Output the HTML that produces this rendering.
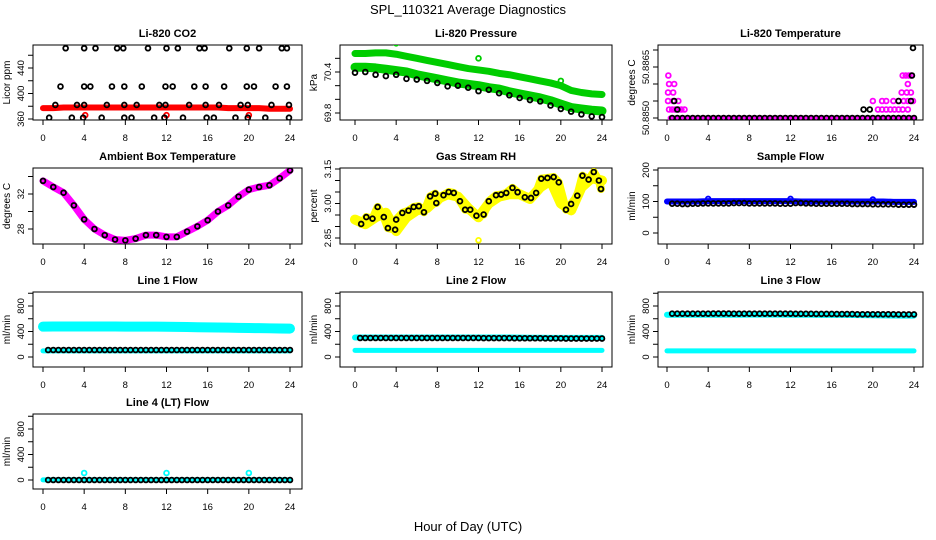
<!DOCTYPE html>
<html><head><meta charset="utf-8">
<style>
html,body{margin:0;padding:0;background:#fff;}
svg{display:block;font-family:"Liberation Sans",sans-serif;}
</style></head>
<body>
<svg id="chart" width="936" height="540" viewBox="0 0 936 540" xmlns="http://www.w3.org/2000/svg">
<rect width="936" height="540" fill="#fff"/>
<text x="468" y="14" text-anchor="middle" font-size="13">SPL_110321  Average Diagnostics</text>
<text x="468" y="531" text-anchor="middle" font-size="13">Hour of Day (UTC)</text>
</svg>
<script>
// ---------- data ----------
const hourTicks = [0,4,8,12,16,20,24];
const hourly = [0,1,2,3,4,5,6,7,8,9,10,11,12,13,14,15,16,17,18,19,20,21,22,23,24];
const halfHours = Array.from({length:48},(_, i)=>0.5+i*0.5);

const co2Hours = [2.2,4.0,5.1,7.2,7.8,10.2,12.0,13.1,15.2,15.7,18.1,19.8,21.0,23.2,23.7,
 1.7,4.0,4.6,6.7,7.9,9.6,11.9,12.6,14.7,15.8,17.6,19.8,20.5,22.6,23.7,
 1.2,3.3,4.0,6.2,7.9,9.1,11.3,11.9,14.2,15.8,17.1,19.2,19.9,22.2,23.9,
 0.6,2.8,3.9,5.7,7.9,8.6,10.8,11.8,13.6,15.9,16.6,18.7,19.9,21.6,23.9];
const co2Vals = [471,471,471,471,471,471,471,471,471,471,471,471,471,471,471,
 411,411,411,411,411,411,411,411,411,411,411,411,411,411,411,
 382,382,382,382,382,382,382,382,382,382,382,382,382,382,382,
 362,362,362,362,362,362,362,362,362,362,362,362,362,362,362];
const co2Red = [377,377,378,378,378,378,378,378,378,378,378,378,378,378,378,378,378,378,377,377,377,377,376,376,376];
const co2RedOutHours = [4.1,12.0,20.0];
const co2RedOutVals = [366,366,366];

const presUpper = [70.67,70.67,70.68,70.68,70.66,70.63,70.6,70.57,70.54,70.51,70.48,70.45,70.43,70.41,70.38,70.36,70.33,70.3,70.27,70.24,70.2,70.13,70.1,70.08,70.07];
const presLower = [70.47,70.47,70.46,70.44,70.42,70.4,70.36,70.33,70.3,70.27,70.24,70.22,70.2,70.17,70.15,70.11,70.08,70.05,70.02,69.98,69.93,69.88,69.86,69.84,69.83];
const presBlack = [70.39,70.4,70.36,70.34,70.36,70.3,70.29,70.27,70.24,70.19,70.2,70.17,70.12,70.14,70.09,70.06,70.02,69.99,69.97,69.91,69.86,69.82,69.78,69.75,69.74];
const presOutHours = [4.0,12.0,20.0];
const presOutVals = [70.82,70.6,70.27];

const tempBaseHours = [0.3,1,2,3,4,5,6,7,8,9,10,11,12,13,14,15,16,17,18,19,20,21,22,23,23.9];
const tempBase = [50.8850,50.8850,50.8850,50.8850,50.8850,50.8850,50.8850,50.8850,50.8850,50.8850,50.8850,50.8850,50.8850,50.8850,50.8850,50.8850,50.8850,50.8850,50.8850,50.8850,50.8850,50.8850,50.8850,50.8850,50.8850];
const tempMagHours = [0.13,0.2,0.7,0.1,0.6,0.1,0.6,1.1,0.2,0.5,0.8,1.1,1.4,1.7,
 20.0,20.9,21.3,22.0,22.5,23.0,23.4,23.9,20.5,20.9,21.3,21.7,22.1,22.5,22.9,23.4,22.8,23.3,23.7,23.4,22.9,23.2,23.5,23.7];
const tempMagVals = [50.88625,50.8860,50.8860,50.88575,50.88575,50.8855,50.8855,50.8855,50.88525,50.88525,50.88525,50.88525,50.88525,50.88525,
 50.8855,50.8855,50.8855,50.8855,50.8855,50.8855,50.8855,50.8855,50.88525,50.88525,50.88525,50.88525,50.88525,50.88525,50.88525,50.88525,50.88575,50.88575,50.88575,50.8860,50.88625,50.88625,50.88625,50.88625];
const tempBlackHours = [1.0,0.7,19.1,19.7,22.5,23.8,23.9,23.7];
const tempBlackVals = [50.88525,50.8855,50.88525,50.88525,50.8855,50.88625,50.88706,50.8855];

const ambVals = [33.5,32.8,32.15,30.7,29.1,28.0,27.3,26.8,26.7,26.9,27.3,27.3,27.1,27.1,27.7,28.3,29.0,30.0,30.7,31.7,32.5,32.8,33.0,33.8,34.7];

const rhHours = [0.6,1.1,1.7,2.2,2.8,3.2,3.9,4.0,4.6,5.2,5.7,6.2,6.7,7.3,7.8,7.9,8.6,9.1,9.6,10.2,10.7,11.2,11.8,12.5,13.0,13.7,14.2,14.7,15.3,15.8,16.5,17.1,17.6,18.1,18.7,19.3,19.8,20.5,21.0,21.6,22.1,22.7,23.2,23.7,23.9];
const rhVals = [2.911,2.941,2.934,2.985,2.941,2.893,2.886,2.93,2.959,2.969,2.985,2.988,2.962,3.031,3.043,3.002,3.036,3.05,3.046,3.01,2.973,2.973,2.947,2.952,3.01,3.036,3.039,3.046,3.068,3.049,3.027,3.024,3.046,3.108,3.111,3.115,3.092,2.973,2.998,3.034,3.121,3.104,3.137,3.1,3.063];
const rhYellow = [2.93,2.91,2.94,2.96,2.88,2.94,2.97,2.98,3.02,3.04,3.03,2.98,2.94,3.00,3.03,3.04,3.04,3.02,3.07,3.10,3.00,2.97,3.07,3.11,3.10];
const rhOutHours = [12.0];
const rhOutVals = [2.84];

const sampleBlue = [100,100,100,100,101,101,101,101,101,101,101,101,101,100,100,100,100,100,100,100,100,100,99,99,99];
const sampleBlack = [93,93,92,92,93,93,94,94,94,94,94,94,95,95,95,94,94,94,94,94,94,93,93,93,95,95,94,94,93,93,93,93,93,93,93,92,92,92,92,91,91,91,91,91,90,90,90,90];
const sampleOutHours = [4.0,12.0,20.0];
const sampleOutVals = [108,108,106];

const l1Upper = [476,478,478,478,478,478,478,478,476,476,476,476,474,472,470,466,464,462,460,456,454,452,450,448,446];
const l1Lower = [96,96,96,96,96,96,96,96,96,96,96,96,96,96,96,96,96,96,96,96,96,96,96,96,96];
const l1Black = [110,110,110,110,110,110,110,110,110,110,110,110,110,110,110,110,110,110,110,110,110,110,110,110,110,110,110,110,110,110,110,110,110,110,110,110,110,110,110,110,110,110,110,110,110,110,110,110];
const l2Upper = [306,306,306,306,306,306,306,306,306,306,306,306,306,306,306,306,304,302,302,300,300,300,300,300,300];
const l2Lower = [104,104,104,104,104,104,104,104,104,104,104,104,104,104,104,104,104,104,104,104,104,104,104,104,104];
const l2Black = [298,298,298,298,298,298,298,298,298,298,298,298,298,298,298,298,298,298,298,298,298,298,298,298,296,296,296,296,296,296,294,294,294,294,294,294,292,292,292,292,290,290,290,290,290,290,290,290];
const l3Upper = [662,662,662,662,662,662,662,662,664,664,664,664,662,662,662,660,660,660,658,656,654,652,650,650,650];
const l3Lower = [96,96,96,96,96,96,96,96,96,96,96,96,96,96,96,96,96,96,96,96,96,96,96,96,96];
const l3Black = [680,680,680,680,680,680,680,680,682,682,682,682,680,680,680,680,680,680,680,680,680,680,680,680,678,678,678,678,676,676,676,676,674,674,674,674,670,670,670,670,670,670,670,670,668,668,668,668];
const l4Cyan = [2,2,2,2,2,2,2,2,2,2,2,2,2,2,2,2,2,2,2,2,2,2,2,2,2];
const l4Black = [0,0,0,0,0,0,0,0,0,0,0,0,0,0,0,0,0,0,0,0,0,0,0,0,0,0,0,0,0,0,0,0,0,0,0,0,0,0,0,0,0,0,0,0,0,0,0,0];
const l4OutHours = [4.0,12.0,20.0];
const l4OutVals = [110,110,110];

// ---------- drawing ----------
const NS = "http://www.w3.org/2000/svg";
const svg = document.getElementById("chart");
const colL=[33,340,658], colR=[302,612,923], colX0=[43,355,667], colX24=[290,602,914];
const rowT=[45,168,292,414], rowB=[120,244,367,489];

function mk(tag, parent){ const e=document.createElementNS(NS,tag); parent.appendChild(e); return e; }

function makePanel(name, title, ylabel, col, row, v1, p1, v2, p2, yTicks, yLabels){
  const g = mk("g", svg);
  
  
  const L=colL[col], R=colR[col], T=rowT[row], B=rowB[row];
  const xs = h => colX0[col] + (h/24)*(colX24[col]-colX0[col]);
  const ys = v => p1 + (v-v1)/(v2-v1)*(p2-p1);
  const clip = mk("clipPath", g); clip.setAttribute("id","clip-"+name);
  const cr = mk("rect", clip); cr.setAttribute("x",L); cr.setAttribute("y",T); cr.setAttribute("width",R-L); cr.setAttribute("height",B-T);
  const box = mk("rect", g);
  
  
  box.setAttribute("x",L); box.setAttribute("y",T); box.setAttribute("width",R-L); box.setAttribute("height",B-T);
  box.setAttribute("fill","none"); box.setAttribute("stroke","#000"); box.setAttribute("stroke-width","1");
  const t = mk("text", g);
  
  
  t.setAttribute("x",(L+R)/2); t.setAttribute("y",T-8); t.setAttribute("text-anchor","middle");
  t.setAttribute("font-size","11"); t.setAttribute("font-weight","bold"); t.textContent=title;
  hourTicks.forEach(h=>{
    const x=xs(h);
    const tk=mk("line",g); tk.setAttribute("x1",x); tk.setAttribute("x2",x); tk.setAttribute("y1",B); tk.setAttribute("y2",B+5); tk.setAttribute("stroke","#000");
    const lb=mk("text",g);
    
    
    lb.setAttribute("x",x); lb.setAttribute("y",B+21); lb.setAttribute("text-anchor","middle"); lb.setAttribute("font-size","9.5"); lb.textContent=h;
  });
  yTicks.forEach((v,i)=>{
    const y=ys(v);
    const tk=mk("line",g); tk.setAttribute("x1",L-5); tk.setAttribute("x2",L); tk.setAttribute("y1",y); tk.setAttribute("y2",y); tk.setAttribute("stroke","#000");
    if(yLabels[i]!==""){
      const lb=mk("text",g);
      
      
      lb.setAttribute("transform",`translate(${L-9},${y}) rotate(-90)`); lb.setAttribute("text-anchor","middle"); lb.setAttribute("font-size","9.5"); lb.textContent=yLabels[i];
    }
  });
  const yl=mk("text",g);
  
  
  yl.setAttribute("transform",`translate(${L-23},${(T+B)/2}) rotate(-90)`); yl.setAttribute("text-anchor","middle"); yl.setAttribute("font-size","10"); yl.textContent=ylabel;
  const plot = mk("g", g); plot.setAttribute("clip-path",`url(#clip-${name})`);
  return {g:plot, xs, ys};
}
function band(P, hours, vals, color, w, nm){
  const pl=mk("polyline",P.g);
  
  
  pl.setAttribute("points", hours.map((h,i)=>P.xs(h)+","+P.ys(vals[i])).join(" "));
  pl.setAttribute("fill","none"); pl.setAttribute("stroke",color); pl.setAttribute("stroke-width",w);
  pl.setAttribute("stroke-linejoin","round"); pl.setAttribute("stroke-linecap","round");
}
function pts(P, hours, vals, color, nm, r){
  hours.forEach((h,i)=>{
    const c=mk("circle",P.g);
    
    
    c.setAttribute("cx",P.xs(h)); c.setAttribute("cy",P.ys(vals[i])); c.setAttribute("r",r||2.4);
    c.setAttribute("fill","none"); c.setAttribute("stroke",color); c.setAttribute("stroke-width","1.8");
  });
}

// Li-820 CO2
let P = makePanel("co2-panel","Li-820 CO2","Licor ppm",0,0,360,119,440,68,[360,380,400,420,440,460],["360","","400","","440",""]);
band(P,hourly,co2Red,"#ff0000",6,"co2-red-band");
pts(P,co2RedOutHours,co2RedOutVals,"#ff0000","co2-red-point");
pts(P,co2Hours,co2Vals,"#000","co2-point");

// Pressure
P = makePanel("pressure-panel","Li-820 Pressure","kPa",1,0,69.8,113,70.4,72,[69.8,70.0,70.2,70.4,70.6],["69.8","","","70.4",""]);
band(P,hourly,presUpper,"#00cd00",7,"pressure-upper-band");
band(P,hourly,presLower,"#00cd00",9,"pressure-lower-band");
pts(P,presOutHours,presOutVals,"#00cd00","pressure-outlier");
pts(P,hourly,presBlack,"#000","pressure-point");

// Temperature
P = makePanel("temperature-panel","Li-820 Temperature","degrees C",2,0,50.8850,118,50.8865,67,[50.8850,50.8855,50.8860,50.8865,50.8870],["50.8850","","","50.8865",""]);
band(P,tempBaseHours,tempBase,"#ff00ff",5,"temperature-base-band");
pts(P,tempMagHours,tempMagVals,"#ff00ff","temperature-magenta-point");
pts(P,halfHours,halfHours.map(()=>tempBase[0]),"#000","temperature-point");
pts(P,tempBlackHours,tempBlackVals,"#000","temperature-black-point");

// Ambient
P = makePanel("ambient-panel","Ambient Box Temperature","degrees C",0,1,28,229,32,194,[28,30,32,34],["28","","32",""]);
band(P,hourly,ambVals,"#ff00ff",7,"ambient-band");
pts(P,hourly,ambVals,"#000","ambient-point");

// RH
P = makePanel("rh-panel","Gas Stream RH","percent",1,1,2.85,238,3.15,169,[2.85,2.90,2.95,3.00,3.05,3.10,3.15],["2.85","","","3.00","","","3.15"]);
band(P,hourly,rhYellow,"#ffff00",10,"rh-yellow-band");
band(P,rhHours,rhVals,"#ffff00",8,"rh-yellow-band-2");
pts(P,rhOutHours,rhOutVals,"#ffff00","rh-outlier");
pts(P,rhHours,rhVals,"#000","rh-point");

// Sample flow
P = makePanel("sample-flow-panel","Sample Flow","ml/min",2,1,0,233,200,170,[0,50,100,150,200],["0","","100","","200"]);
band(P,hourly,sampleBlue,"#0000ff",6,"sample-blue-band");
pts(P,sampleOutHours,sampleOutVals,"#0000ff","sample-outlier");
pts(P,halfHours,sampleBlack,"#000","sample-point");

const flowTicks=[0,200,400,600,800,1000], flowLabels=["0","","400","","800",""];
// Line 1
P = makePanel("line1-flow-panel","Line 1 Flow","ml/min",0,2,0,357,800,306,flowTicks,flowLabels);
band(P,hourly,l1Upper,"#00ffff",10,"line1-upper-band");
band(P,hourly,l1Lower,"#00ffff",5,"line1-lower-band");
pts(P,halfHours,l1Black,"#000","line1-point");
// Line 2
P = makePanel("line2-flow-panel","Line 2 Flow","ml/min",1,2,0,357,800,306,flowTicks,flowLabels);
band(P,hourly,l2Upper,"#00ffff",6,"line2-upper-band");
band(P,hourly,l2Lower,"#00ffff",5,"line2-lower-band");
pts(P,halfHours,l2Black,"#000","line2-point");
// Line 3
P = makePanel("line3-flow-panel","Line 3 Flow","ml/min",2,2,0,357,800,306,flowTicks,flowLabels);
band(P,hourly,l3Upper,"#00ffff",6,"line3-upper-band");
band(P,hourly,l3Lower,"#00ffff",5,"line3-lower-band");
pts(P,halfHours,l3Black,"#000","line3-point");
// Line 4
P = makePanel("line4-flow-panel","Line 4 (LT) Flow","ml/min",0,3,0,480,800,429,flowTicks,flowLabels);
band(P,hourly,l4Cyan,"#00ffff",5,"line4-band");
pts(P,l4OutHours,l4OutVals,"#00ffff","line4-outlier");
pts(P,halfHours,l4Black,"#000","line4-point");
</script>
</body></html>
